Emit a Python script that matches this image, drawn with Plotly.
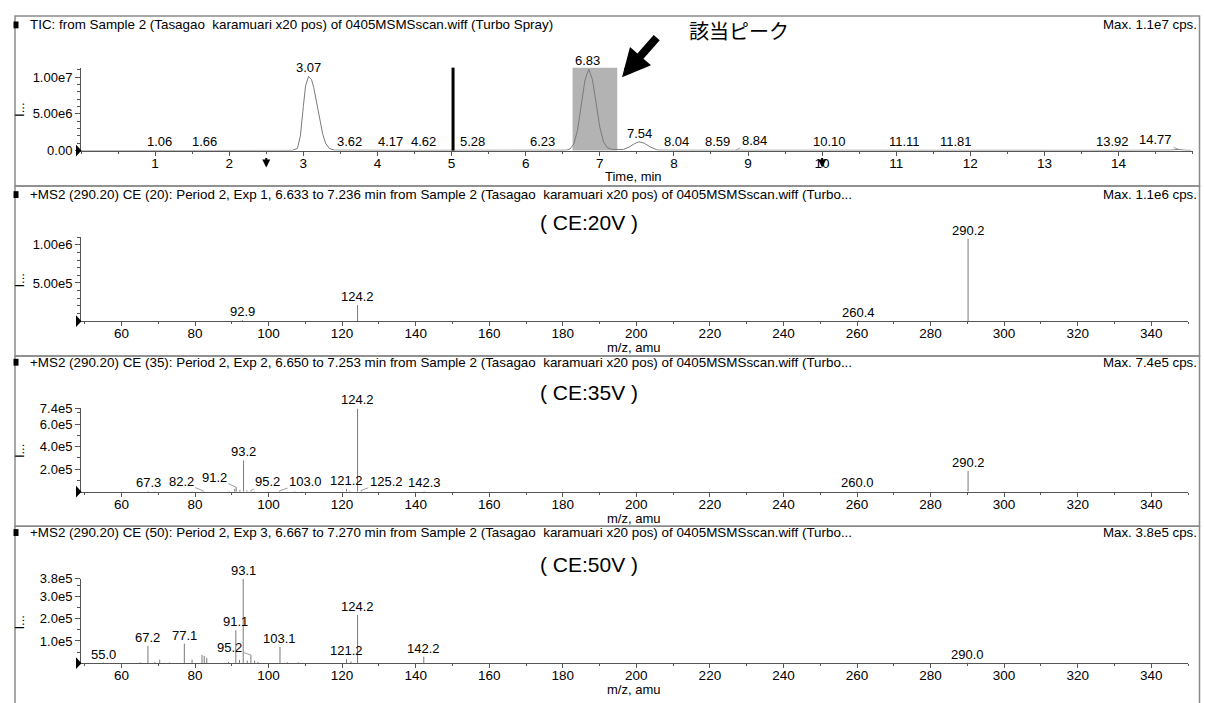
import numpy as np
import plotly.graph_objects as go

# ===================== DATA =====================
# TIC chromatogram: time (min) and intensity (cps)
tic_time = [0.00, 1.06, 1.66, 2.50, 2.85, 2.92, 2.96, 3.00, 3.03, 3.07, 3.11, 3.14, 3.18, 3.22,
            3.26, 3.30, 3.35, 3.42, 3.62, 4.17, 4.62, 5.28, 6.23, 6.55, 6.60, 6.65, 6.70, 6.75,
            6.80, 6.85, 6.90, 6.95, 7.00, 7.05, 7.10, 7.17, 7.25, 7.32, 7.40, 7.47, 7.53, 7.60,
            7.68, 7.78, 8.04, 8.59, 8.84, 10.10, 11.11, 11.81, 13.92, 14.70, 14.80, 14.90, 14.98]
tic_intensity = [0, 2e4, 2e4, 1e4, 2e4, 3e5, 2.0e6, 6.0e6, 8.8e6, 1.01e7, 9.7e6, 8.6e6, 6.5e6, 4.3e6,
                 2.3e6, 1.0e6, 3e5, 5e4, 3e4, 3e4, 3e4, 3e4, 4e4, 5e4, 2.3e5, 9e5, 2.8e6, 6.0e6,
                 9.6e6, 1.11e7, 9.7e6, 6.5e6, 3.2e6, 1.2e6, 4e5, 1.5e5, 1e5, 1.5e5, 5e5, 9.5e5, 1.2e6, 1.0e6,
                 5e5, 6e4, 4e4, 3e4, 6e4, 3e4, 3e4, 3e4, 3e4, 5e4, 1.5e5, 4e4, 2e4]
tic_label_times = [1.06, 1.66, 3.07, 3.62, 4.17, 4.62, 5.28, 6.23, 6.83, 7.54, 8.04, 8.59, 8.84,
                   10.10, 11.11, 11.81, 13.92, 14.77]
tic_xticks = list(range(1, 15))
tic_yticks = [0, 5e6, 1e7]
tic_yticktext = ["0.00", "5.00e6", "1.00e7"]
ms2_window = [6.633, 7.236]      # shaded MS2 accumulation window (min)
cursor_time = 5.02               # black cursor line (min)
event_times = [2.5, 10.0]        # small event arrows (min)

# MS2 spectra: m/z and intensity (cps)
ce20_mz = [92.3, 92.9, 124.2, 260.4, 290.2]
ce20_int = [5e3, 1.2e4, 2.1e5, 8e3, 1.08e6]
ce20_label_mz = [92.9, 124.2, 260.4, 290.2]
ce20_yticks = [5e5, 1e6]
ce20_yticktext = ["5.00e5", "1.00e6"]

ce35_mz = [67.3, 69.1, 79.2, 82.2, 89.3, 90.8, 91.2, 92.2, 93.2, 94.1, 95.2, 96.1, 103.0, 107.1,
           109.1, 121.2, 122.1, 124.2, 125.2, 142.3, 260.0, 290.2]
ce35_int = [6e3, 4e3, 5e3, 8e3, 6e3, 2.5e4, 4.0e4, 1.5e4, 2.78e5, 1.2e4, 1.0e4, 6e3, 8e3, 5e3,
            4e3, 2.5e4, 8e3, 7.4e5, 1.2e4, 6e3, 3e3, 1.83e5]
ce35_label_mz = [67.3, 82.2, 91.2, 93.2, 95.2, 103.0, 121.2, 124.2, 125.2, 142.3, 260.0, 290.2]
ce35_yticks = [2e5, 4e5, 6e5, 7.4e5]
ce35_yticktext = ["2.0e5", "4.0e5", "6.0e5", "7.4e5"]

ce50_mz = [55.0, 65.1, 67.2, 69.1, 70.4, 73.1, 77.1, 79.2, 81.9, 82.5, 83.2, 89.1, 91.1, 92.1,
           93.1, 94.2, 95.2, 96.2, 97.1, 103.1, 105.1, 108.1, 121.2, 122.4, 124.2, 142.2, 290.0]
ce50_int = [3e3, 4e3, 7.8e4, 5e3, 1.6e4, 3e3, 8.8e4, 1.6e4, 3.7e4, 3.3e4, 2.4e4, 6e3, 1.48e5, 1.5e4,
            3.8e5, 1.2e4, 3.7e4, 1.2e4, 5e3, 7.3e4, 4e3, 4e3, 1.8e4, 8e3, 2.17e5, 3.0e4, 2e3]
ce50_label_mz = [55.0, 67.2, 77.1, 91.1, 93.1, 95.2, 103.1, 121.2, 124.2, 142.2, 290.0]
ce50_yticks = [1e5, 2e5, 3e5, 3.8e5]
ce50_yticktext = ["1.0e5", "2.0e5", "3.0e5", "3.8e5"]

panel_titles = [
    "TIC: from Sample 2 (Tasagao\u00a0 karamuari x20 pos) of 0405MSMSscan.wiff (Turbo Spray)",
    "+MS2 (290.20) CE (20): Period 2, Exp 1, 6.633 to 7.236 min from Sample 2 (Tasagao\u00a0 karamuari x20 pos) of 0405MSMSscan.wiff (Turbo...",
    "+MS2 (290.20) CE (35): Period 2, Exp 2, 6.650 to 7.253 min from Sample 2 (Tasagao\u00a0 karamuari x20 pos) of 0405MSMSscan.wiff (Turbo...",
    "+MS2 (290.20) CE (50): Period 2, Exp 3, 6.667 to 7.270 min from Sample 2 (Tasagao\u00a0 karamuari x20 pos) of 0405MSMSscan.wiff (Turbo...",
]
panel_max = ["Max. 1.1e7 cps.", "Max. 1.1e6 cps.", "Max. 7.4e5 cps.", "Max. 3.8e5 cps."]
ce_tags = ["(\u00a0CE:20V\u00a0)", "(\u00a0CE:35V\u00a0)", "(\u00a0CE:50V\u00a0)"]
x_titles = ["Time, min", "m/z, amu", "m/z, amu", "m/z, amu"]
callout_text = "該当ピーク"

# ===================== STYLE / LAYOUT =====================
W, H = 1205, 703
FONT = "Liberation Sans, Arial, Helvetica, sans-serif"
JP_FONT = "Noto Sans CJK JP, sans-serif"
AXIS_COL = "#555555"
TRACE_COL = "#7a7a7a"

def pxx(p):
    return p / W

def pxy(p):
    return 1 - p / H

# per panel: plot bottom (px), y range, pixels per unit
panel_bottom = [146.7, 321.0, 495.3, 670.5]
panel_yrange = [[0, 1.13e7], [0, 1.1e6], [0, 7.4e5], [0, 3.8e5]]
panel_pxscale = [75 / 1e7, 78 / 1e6, 11.5 / 1e5, 22.7 / 1e5]
panel_minor_dy = [1e6, 1e5, 1e5, 5e4]
sep_y = [9.3, 183.0, 356.5, 530.5, 712.0]
header_y = [18.3, 191.7, 363.0, 537.0]
tic_xrange = [0, 15.0]
ms_xrange = [49, 350]
tic_dom_px = [81, 1192.7]
ms_dom_px = [81, 1188]

fig = go.Figure()

# ---- TIC trace
fig.add_trace(go.Scatter(x=tic_time, y=tic_intensity, mode="lines",
                         line=dict(color=TRACE_COL, width=1), xaxis="x", yaxis="y",
                         hoverinfo="skip"))


def sticks(mz, inten):
    xs, ys = [], []
    for m, v in zip(mz, inten):
        xs += [m, m, None]
        ys += [0, v, None]
    return xs, ys


spectra = [(ce20_mz, ce20_int, ce20_label_mz), (ce35_mz, ce35_int, ce35_label_mz),
           (ce50_mz, ce50_int, ce50_label_mz)]
for i, (mz, inten, _) in enumerate(spectra):
    xs, ys = sticks(mz, inten)
    fig.add_trace(go.Scatter(x=xs, y=ys, mode="lines", line=dict(color=TRACE_COL, width=1),
                             xaxis=f"x{i + 2}", yaxis=f"y{i + 2}", hoverinfo="skip"))

layout = dict(width=W, height=H, margin=dict(l=0, r=0, t=0, b=0),
              paper_bgcolor="white", plot_bgcolor="white", showlegend=False,
              font=dict(family=FONT, size=13.5, color="black"))

for i in range(4):
    sfx = "" if i == 0 else str(i + 1)
    bottom = panel_bottom[i]
    top = bottom - (panel_yrange[i][1] - panel_yrange[i][0]) * panel_pxscale[i]
    dom_px = tic_dom_px if i == 0 else ms_dom_px
    xa = dict(domain=[pxx(dom_px[0]), pxx(dom_px[1])], anchor="y" + sfx,
              range=tic_xrange if i == 0 else ms_xrange,
              showline=True, linecolor=AXIS_COL, linewidth=1, ticks="outside", ticklen=4,
              tickcolor=AXIS_COL, tickwidth=1, showgrid=False, zeroline=False,
              tickfont=dict(size=13.5, color="black"), ticklabelstandoff=-4, fixedrange=True)
    if i == 0:
        xa.update(tickmode="array", tickvals=tic_xticks,
                  minor=dict(dtick=0.5, tick0=0, ticks="outside", ticklen=2, tickcolor=AXIS_COL))
    else:
        xa.update(tick0=0, dtick=20,
                  minor=dict(dtick=10, tick0=0, ticks="outside", ticklen=2, tickcolor=AXIS_COL))
    yt = [(tic_yticks, tic_yticktext), (ce20_yticks, ce20_yticktext),
          (ce35_yticks, ce35_yticktext), (ce50_yticks, ce50_yticktext)][i]
    ya = dict(domain=[pxy(bottom), pxy(top)], anchor="x" + sfx, range=panel_yrange[i],
              showline=True, linecolor=AXIS_COL, linewidth=1, ticks="outside", ticklen=5,
              tickcolor=AXIS_COL, tickwidth=1, showgrid=False, zeroline=False,
              tickmode="array", tickvals=yt[0], ticktext=yt[1],
              tickfont=dict(size=13, color="black"), fixedrange=True,
              minor=dict(dtick=panel_minor_dy[i], tick0=0, ticks="outside", ticklen=3,
                         tickcolor=AXIS_COL))
    layout["xaxis" + sfx] = xa
    layout["yaxis" + sfx] = ya

shapes = []
annotations = []

# panel frames, header squares, origin triangles
for i in range(4):
    shapes.append(dict(type="rect", xref="paper", yref="paper", x0=pxx(15), x1=pxx(1199.5),
                       y0=pxy(sep_y[i + 1]), y1=pxy(sep_y[i]),
                       line=dict(color="#8a8a8a", width=1.5), fillcolor="rgba(0,0,0,0)"))
    shapes.append(dict(type="rect", xref="paper", yref="paper", x0=pxx(13.5), x1=pxx(18.5),
                       y0=pxy(header_y[i] + 3.5), y1=pxy(header_y[i] - 3.5),
                       line=dict(width=0), fillcolor="black"))
    b = panel_bottom[i]
    shapes.append(dict(type="path", xref="paper", yref="paper",
                       path=f"M {pxx(76)},{pxy(b - 6)} L {pxx(81.5)},{pxy(b)} L {pxx(76)},{pxy(b + 6)} Z",
                       line=dict(width=0), fillcolor="black"))
    annotations.append(dict(xref="paper", yref="paper", x=pxx(27.5), y=pxy(header_y[i]),
                            xanchor="left", yanchor="middle", text=panel_titles[i], showarrow=False,
                            font=dict(size=13.4)))
    annotations.append(dict(xref="paper", yref="paper", x=pxx(1198.5), y=pxy(header_y[i]),
                            xanchor="right", yanchor="middle", text=panel_max[i], showarrow=False,
                            font=dict(size=13.3)))
    annotations.append(dict(xref="paper", yref="paper", x=pxx(19.5), y=pxy(b - 41),
                            xanchor="center", yanchor="middle", text="I...", textangle=-90,
                            showarrow=False, font=dict(size=13)))
    annotations.append(dict(xref="paper", yref="paper", x=pxx(633), y=pxy(b + 27),
                            xanchor="center", yanchor="middle", text=x_titles[i], showarrow=False,
                            font=dict(size=13)))
    if i > 0:
        annotations.append(dict(xref="paper", yref="paper", x=pxx(589), y=pxy(b - 101),
                                xanchor="center", yanchor="middle", text=ce_tags[i - 1],
                                showarrow=False, font=dict(size=21)))

# TIC decorations
shapes.append(dict(type="rect", xref="x", yref="y domain", x0=ms2_window[0], x1=ms2_window[1],
                   y0=0, y1=1, fillcolor="#b3b3b3", line=dict(width=0), layer="below"))
shapes.append(dict(type="line", xref="x", yref="y domain", x0=cursor_time, x1=cursor_time,
                   y0=0, y1=1, line=dict(color="black", width=3)))
for t in event_times:
    annotations.append(dict(xref="x", yref="paper", x=t, y=pxy(164), ax=0, ay=-11,
                            text="", showarrow=True, arrowhead=2, arrowsize=0.8, arrowwidth=2,
                            arrowcolor="black", standoff=0))

# big callout arrow and Japanese text
annotations.append(dict(xref="x", yref="y", x=7.30, y=1.0e7, ax=36, ay=-41, axref="pixel",
                        ayref="pixel", text="", showarrow=True, arrowhead=2, arrowsize=0.7,
                        arrowwidth=8, arrowcolor="black", standoff=0))
annotations.append(dict(xref="paper", yref="paper", x=pxx(739), y=pxy(24.5), xanchor="center",
                        yanchor="middle", text=callout_text, showarrow=False,
                        font=dict(size=20, family=JP_FONT)))

LABEL_FONT = dict(size=13, color="black")
LEADER_COL = "#888888"

# TIC peak labels
tic_leaders = {8.84: (18, -10), 14.77: (-23, -10)}
tt = np.array(tic_time)
ti = np.array(tic_intensity)
for t in tic_label_times:
    near = ti[np.abs(tt - t) <= 0.06]
    yv = float(near.max()) if near.size else float(np.interp(t, tt, ti))
    txt = f"{t:.2f}"
    if t in tic_leaders:
        ax, ay = tic_leaders[t]
        px_t = t + (0.04 if t > 14 else 0)
        annotations.append(dict(xref="x", yref="y", x=px_t, y=yv, ax=ax, ay=ay, text=txt,
                                showarrow=True, arrowhead=0, arrowwidth=0.8,
                                arrowcolor=LEADER_COL, standoff=0, font=LABEL_FONT))
    else:
        annotations.append(dict(xref="x", yref="y", x=t, y=yv, text=txt, showarrow=False,
                                yanchor="bottom", yshift=-1, font=LABEL_FONT))

# MS peak labels (leader offsets are style)
ms_leaders = [
    {},
    {82.2: (-22, -9), 91.2: (-22, -10), 95.2: (17, -9), 103.0: (26, -9), 125.2: (25, -9)},
    {95.2: (-21, -7)},
]
for i, (mz, inten, lab) in enumerate(spectra):
    xr, yr = f"x{i + 2}", f"y{i + 2}"
    for m in lab:
        k = int(np.argmin(np.abs(np.array(mz) - m)))
        yv = inten[k]
        txt = f"{m:.1f}"
        if m in ms_leaders[i]:
            ax, ay = ms_leaders[i][m]
            annotations.append(dict(xref=xr, yref=yr, x=m, y=yv, ax=ax, ay=ay, text=txt,
                                    showarrow=True, arrowhead=0, arrowwidth=0.8,
                                    arrowcolor=LEADER_COL, standoff=0, font=LABEL_FONT))
        else:
            annotations.append(dict(xref=xr, yref=yr, x=m, y=yv, text=txt, showarrow=False,
                                    yanchor="bottom", yshift=-1, font=LABEL_FONT))

layout["shapes"] = shapes
layout["annotations"] = annotations
fig.update_layout(**layout)

fig.write_html("out.html", include_plotlyjs=True, config={"displayModeBar": False},
               post_script="document.body.style.margin='0';document.body.style.overflow='hidden';")
